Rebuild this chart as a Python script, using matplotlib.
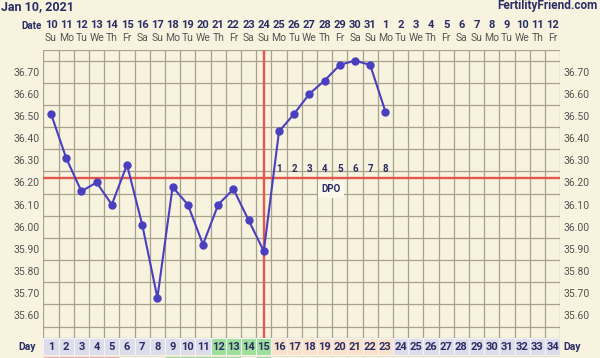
import matplotlib
matplotlib.use("Agg")
import matplotlib.pyplot as plt
import matplotlib.transforms as mtransforms
import numpy as np

plt.rcParams['font.family'] = ['Roboto', 'DejaVu Sans']

# ---- data ----
days = list(range(1, 35))
dates = list(range(10, 32)) + list(range(1, 13))
weekdays = ['Su', 'Mo', 'Tu', 'We', 'Th', 'Fr', 'Sa']
temp_days = list(range(1, 24))
temps = [36.51, 36.31, 36.16, 36.20, 36.10, 36.28, 36.01, 35.68, 36.18, 36.10,
         35.92, 36.10, 36.17, 36.03, 35.89, 36.43, 36.51, 36.60, 36.66, 36.73,
         36.75, 36.73, 36.52]
coverline = 36.22
ovulation_day = 15
dpo_days = list(range(16, 24))
dpo_labels = [str(i) for i in range(1, 9)]
ytick_vals = [35.60, 35.70, 35.80, 35.90, 36.00, 36.10, 36.20, 36.30, 36.40, 36.50, 36.60, 36.70]
# day-row phases: lavender (1-11), green (12-15), peach (16-23), lavender (24-34)
day_phase = ['n'] * 11 + ['g'] * 4 + ['p'] * 8 + ['n'] * 11
# bottom (cut-off) row colours
strip_phase = ['m'] * 5 + ['w'] * 3 + ['g'] * 5 + ['w'] + ['g'] + ['w'] * 19

BG = '#f7f3de'
NAVY = '#2b2d66'
GRID = '#a8a28c'
RED = '#e4574f'
LINE = '#4a3fbf'
phase_col = {'n': '#dddcea', 'g': '#9edf9b', 'p': '#fbe2cb', 'm': '#f5a9c3', 'w': '#faf8ee'}

W_PX, H_PX = 600, 358
fig = plt.figure(figsize=(6, 3.58), dpi=100, facecolor=BG)

L_px, R_px = 43.4, 560.2
T_px, B_px = 49.5, 337.6
ax = fig.add_axes([L_px / W_PX, 1 - B_px / H_PX, (R_px - L_px) / W_PX, (B_px - T_px) / H_PX])
ax.set_facecolor(BG)
ax.set_xlim(0.5, 34.5)
ax.set_ylim(35.5, 36.8)
for s in ax.spines.values():
    s.set_visible(False)

ax.set_xticks([])
ax.set_xticks(np.arange(0.5, 35, 1), minor=True)
ax.set_yticks(ytick_vals)
ax.set_yticklabels([f"{v:.2f}" for v in ytick_vals])
ax.set_yticks(np.arange(35.5, 36.801, 0.05), minor=True)
ax.grid(which='minor', color=GRID, linewidth=0.9)
ax.grid(which='major', visible=False)
ax.tick_params(which='both', length=0)
ax.tick_params(axis='y', labelleft=True, labelright=True, labelsize=7.5,
               labelcolor='#555555', pad=2.5)
for gl in ax.get_xgridlines() + ax.get_ygridlines():
    gl.set_clip_on(False)

# coverline and ovulation line
ax.axhline(coverline, color=RED, linewidth=1.7, zorder=3)
ax.axvline(ovulation_day, color=RED, linewidth=1.7, zorder=3)

# temperature line
ax.plot(temp_days, temps, color=LINE, linewidth=1.5, marker='o', markersize=5,
        markerfacecolor=LINE, markeredgecolor=LINE, zorder=5)

# DPO labels
for d, lab in zip(dpo_days, dpo_labels):
    ax.text(d, 36.262, lab, ha='center', va='center', fontsize=7, fontweight='bold',
            color=NAVY, zorder=6)
ax.text(19.4, 36.17, 'DPO', ha='center', va='center', fontsize=7, fontweight='bold',
        color=NAVY, zorder=6,
        bbox=dict(boxstyle='square,pad=0.35', facecolor='#fbf9ec', edgecolor='none'))

# header rows (x in data, y in figure pixels)
trans = mtransforms.blended_transform_factory(ax.transData, fig.transFigure)
def fy(p):
    return 1 - p / H_PX

for d, dt, i in zip(days, dates, range(len(days))):
    ax.text(d, fy(24.5), str(dt), transform=trans, ha='center', va='center',
            fontsize=8, fontweight='bold', color=NAVY, clip_on=False)
    ax.text(d, fy(38), weekdays[i % 7], transform=trans, ha='center', va='center',
            fontsize=7.5, color='#555555', clip_on=False)
fig.text(42 / W_PX, fy(26), 'Date', ha='right', va='center', fontsize=7,
         fontweight='bold', color=NAVY)
fig.text(1 / W_PX, fy(10), 'Jan 10, 2021', ha='left', va='baseline', fontsize=9,
         fontweight='bold', color=NAVY)
fig.text(597 / W_PX, fy(9.5), 'FertilityFriend.com', ha='right', va='baseline',
         fontsize=8.5, fontweight='bold', color=NAVY)

# day row
axd = fig.add_axes([L_px / W_PX, 1 - 355 / H_PX, (R_px - L_px) / W_PX, 17 / H_PX])
axd.set_xlim(0.5, 34.5)
axd.set_ylim(0, 1)
axd.axis('off')
axd.bar(days, [1] * len(days), width=1, bottom=0,
        color=[phase_col[p] for p in day_phase], edgecolor='#f3f2f6', linewidth=0.8)
for d in days:
    axd.text(d, 0.5, str(d), ha='center', va='center', fontsize=8,
             fontweight='bold', color=NAVY)
fig.text(36 / W_PX, fy(346.5), 'Day', ha='right', va='center', fontsize=7.5,
         fontweight='bold', color=NAVY)
fig.text(563 / W_PX, fy(346.5), 'Day', ha='left', va='center', fontsize=7.5,
         fontweight='bold', color=NAVY)

# cut-off bottom row
axs = fig.add_axes([L_px / W_PX, 1 - 373 / H_PX, (R_px - L_px) / W_PX, 17 / H_PX])
axs.set_xlim(0.5, 34.5)
axs.set_ylim(0, 1)
axs.axis('off')
axs.bar(days, [1] * len(days), width=1, bottom=0,
        color=[phase_col[p] for p in strip_phase], edgecolor='#e6e3d6', linewidth=0.8)

fig.savefig('out.png', dpi=100, facecolor=BG)
